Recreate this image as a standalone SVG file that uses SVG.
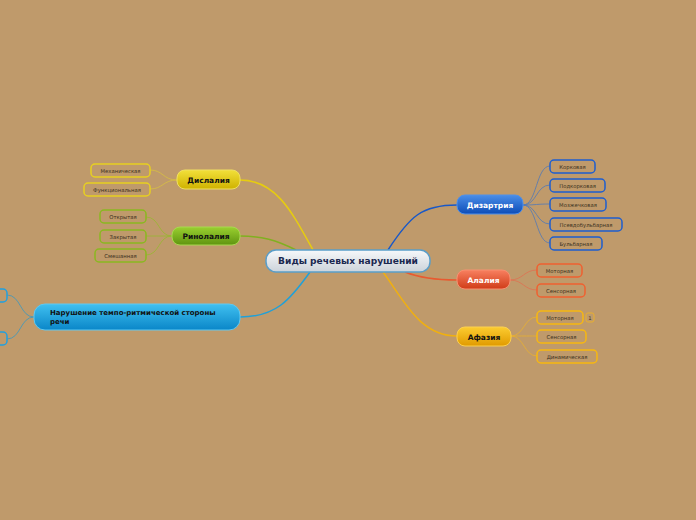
<svg xmlns="http://www.w3.org/2000/svg" width="696" height="520" viewBox="0 0 696 520">
<defs>
<linearGradient id="gC" x1="0" y1="0" x2="0" y2="1"><stop offset="0" stop-color="#f6f8fa"/><stop offset="1" stop-color="#ccd3da"/></linearGradient>
<linearGradient id="gY" x1="0" y1="0" x2="0" y2="1"><stop offset="0" stop-color="#f2e03a"/><stop offset="1" stop-color="#cfb200"/></linearGradient>
<linearGradient id="gG" x1="0" y1="0" x2="0" y2="1"><stop offset="0" stop-color="#9ad030"/><stop offset="1" stop-color="#5f9410"/></linearGradient>
<linearGradient id="gL" x1="0" y1="0" x2="0" y2="1"><stop offset="0" stop-color="#40c0f0"/><stop offset="1" stop-color="#0a86c8"/></linearGradient>
<linearGradient id="gB" x1="0" y1="0" x2="0" y2="1"><stop offset="0" stop-color="#4a8ee8"/><stop offset="1" stop-color="#0d4cb8"/></linearGradient>
<linearGradient id="gR" x1="0" y1="0" x2="0" y2="1"><stop offset="0" stop-color="#f88060"/><stop offset="1" stop-color="#d03c18"/></linearGradient>
<linearGradient id="gO" x1="0" y1="0" x2="0" y2="1"><stop offset="0" stop-color="#fccc30"/><stop offset="1" stop-color="#e09a00"/></linearGradient>
</defs>
<style>
text{font-family:"DejaVu Sans","Liberation Sans",sans-serif;}
.main{font-size:7.5px;font-weight:bold;text-anchor:middle;}
.sub{font-size:5.3px;fill:#3a3020;text-anchor:middle;}
.box{fill:none;stroke-width:1.5;}
.conn{fill:none;stroke-width:1.5;}
.cc{fill:none;stroke-width:0.8;}
</style>
<rect width="696" height="520" fill="#bf9a6b"/>
<g id="connectors">
<path class="conn" stroke="#e6cc10" d="M313 250 C292 212 276 180 240 180"/>
<path class="conn" stroke="#80b020" d="M296 250 C276 240 262 236 240 236"/>
<path class="conn" stroke="#20a0d8" d="M310 272 C290 300 276 317 240 317"/>
<path class="conn" stroke="#1858c8" d="M388 250 C410 216 422 205 457 205"/>
<path class="conn" stroke="#e85a30" d="M405 272 C420 278 436 280 457 280"/>
<path class="conn" stroke="#f0b010" d="M383 272 C405 302 420 336 457 336"/>
<g stroke="#d8c040"><path class="cc" d="M177 180 C163 180 163 170 150 170"/><path class="cc" d="M177 180 C163 180 163 189 150 189"/></g>
<g stroke="#98b830"><path class="cc" d="M172 236 C158 236 160 217 146 217"/><path class="cc" d="M172 236 C158 236 160 236 146 236"/><path class="cc" d="M172 236 C158 236 160 255 146 255"/></g>
<g stroke="#3898c0"><path class="cc" d="M34 317 C20 317 21 295 7 295"/><path class="cc" d="M34 317 C20 317 21 339 7 339"/></g>
<g stroke="#5078b8"><path class="cc" d="M523 205 C537 205 536 166 550 166"/><path class="cc" d="M523 205 C537 205 536 185 550 185"/><path class="cc" d="M523 205 C537 205 536 204 550 204"/><path class="cc" d="M523 205 C537 205 536 224 550 224"/><path class="cc" d="M523 205 C537 205 536 243 550 243"/></g>
<g stroke="#e07050"><path class="cc" d="M510 280 C523 280 524 270 537 270"/><path class="cc" d="M510 280 C523 280 524 290 537 290"/></g>
<g stroke="#e8b030"><path class="cc" d="M511 336 C524 336 524 317 537 317"/><path class="cc" d="M511 336 C524 336 524 336 537 336"/><path class="cc" d="M511 336 C524 336 524 356 537 356"/></g>
</g>
<g id="center"><rect x="266" y="250" width="164" height="22" rx="10" fill="url(#gC)" stroke="#5a9ec9" stroke-width="1.5"/><text x="348" y="264" font-size="9.1" font-weight="bold" fill="#1a2850" text-anchor="middle">Виды речевых нарушений</text></g>
<g id="dislalia"><rect x="177" y="170" width="63" height="19" rx="8" fill="url(#gY)" stroke="#f0e060"/><text class="main" x="208.5" y="182.5" fill="#111">Дислалия</text></g>
<g id="d1"><rect class="box" x="91" y="164" width="59" height="13" rx="4" stroke="#e8d020"/><text class="sub" x="120.5" y="172.5">Механическая</text></g>
<g id="d2"><rect class="box" x="84" y="183" width="66" height="13" rx="4" stroke="#e8d020"/><text class="sub" x="117" y="191.5">Функциональная</text></g>
<g id="rinolalia"><rect x="172" y="227" width="68" height="18" rx="8" fill="url(#gG)" stroke="#a8d850"/><text class="main" x="206" y="239" fill="#111">Ринолалия</text></g>
<g id="r1"><rect class="box" x="100" y="210" width="46" height="13" rx="4" stroke="#8ab820"/><text class="sub" x="123" y="218.5">Открытая</text></g>
<g id="r2"><rect class="box" x="100" y="230" width="46" height="13" rx="4" stroke="#8ab820"/><text class="sub" x="123" y="238.5">Закрытая</text></g>
<g id="r3"><rect class="box" x="95" y="249" width="51" height="13" rx="4" stroke="#8ab820"/><text class="sub" x="120.5" y="257.5">Смешанная</text></g>
<g id="tempo"><rect x="34" y="304" width="206" height="26" rx="11" fill="url(#gL)" stroke="#60c8f0"/><text x="50" y="315" font-size="7" font-weight="bold" fill="#111">Нарушение темпо-ритмической стороны</text><text x="50" y="323.5" font-size="7" font-weight="bold" fill="#111">речи</text></g>
<g id="t1"><rect class="box" x="-40" y="289" width="47" height="13" rx="4" stroke="#20a0e0"/></g>
<g id="t2"><rect class="box" x="-40" y="332" width="47" height="13" rx="4" stroke="#20a0e0"/></g>
<g id="dizartria"><rect x="457" y="195" width="66" height="19" rx="8" fill="url(#gB)" stroke="#5090e8"/><text class="main" x="490" y="207.5" fill="#fff">Дизартрия</text></g>
<g id="z1"><rect class="box" x="550" y="160" width="45" height="13" rx="4" stroke="#1e5ed0"/><text class="sub" x="572.5" y="168.5">Корковая</text></g>
<g id="z2"><rect class="box" x="550" y="179" width="55" height="13" rx="4" stroke="#1e5ed0"/><text class="sub" x="577.5" y="187.5">Подкорковая</text></g>
<g id="z3"><rect class="box" x="550" y="198" width="56" height="13" rx="4" stroke="#1e5ed0"/><text class="sub" x="578" y="206.5">Мозжечковая</text></g>
<g id="z4"><rect class="box" x="550" y="218" width="72" height="13" rx="4" stroke="#1e5ed0"/><text class="sub" x="586" y="226.5">Псевдобульбарная</text></g>
<g id="z5"><rect class="box" x="550" y="237" width="52" height="13" rx="4" stroke="#1e5ed0"/><text class="sub" x="576" y="245.5">Бульбарная</text></g>
<g id="alalia"><rect x="457" y="270" width="53" height="19" rx="8" fill="url(#gR)" stroke="#f89070"/><text class="main" x="483.5" y="282.5" fill="#fff">Алалия</text></g>
<g id="a1"><rect class="box" x="537" y="264" width="45" height="13" rx="4" stroke="#f06030"/><text class="sub" x="559.5" y="272.5">Моторная</text></g>
<g id="a2"><rect class="box" x="537" y="284" width="48" height="13" rx="4" stroke="#f06030"/><text class="sub" x="561" y="292.5">Сенсорная</text></g>
<g id="afazia"><rect x="457" y="327" width="54" height="19" rx="8" fill="url(#gO)" stroke="#fcd050"/><text class="main" x="484" y="339.5" fill="#111">Афазия</text></g>
<g id="f1"><rect class="box" x="537" y="311" width="46" height="13" rx="4" stroke="#f8b810"/><text class="sub" x="560" y="319.5">Моторная</text><rect x="586" y="313" width="8" height="9" rx="2" fill="none" stroke="#e8b030" stroke-width="1"/><text x="590" y="320" font-size="5.3" fill="#3a3020" text-anchor="middle">1</text></g>
<g id="f2"><rect class="box" x="537" y="330" width="49" height="13" rx="4" stroke="#f8b810"/><text class="sub" x="561.5" y="338.5">Сенсорная</text></g>
<g id="f3"><rect class="box" x="537" y="350" width="60" height="13" rx="4" stroke="#f8b810"/><text class="sub" x="567" y="358.5">Динамическая</text></g>
</svg>
